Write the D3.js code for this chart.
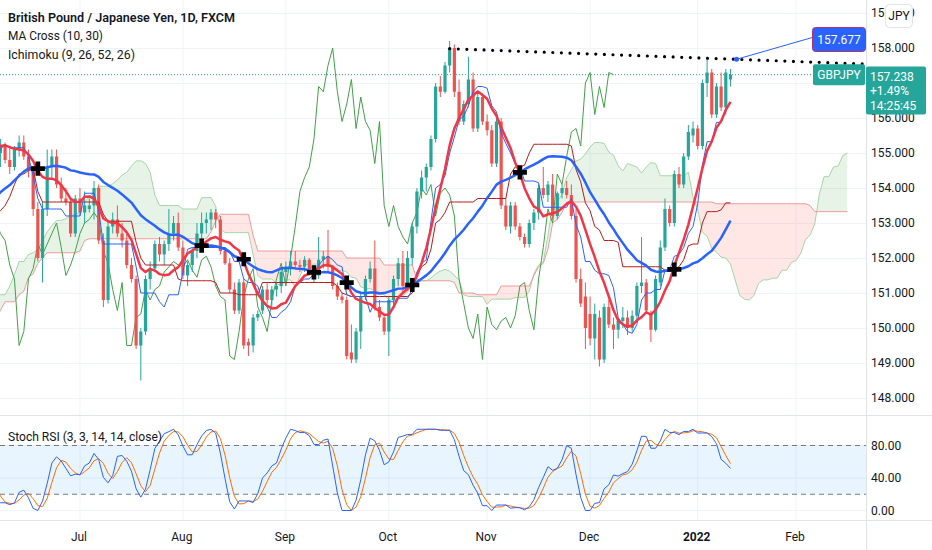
<!DOCTYPE html>
<html>
<head>
<meta charset="utf-8">
<script src="https://cdn.jsdelivr.net/npm/d3@7"></script>
<style>
  body { margin: 0; background: #fff; }
  text { font-family: Roboto, "Noto Sans", sans-serif; fill: #131722; }
</style>
</head>
<body>
<svg id="chart" width="932" height="550"></svg>
<script>
// ===== Data =====
// Daily GBPJPY bars [open, high, low, close]. The warm-up bars sit left of the
// visible window and only feed the indicators (MA 30, Ichimoku 52, Stoch RSI).
const firstDate = '2021-02-18';
const warmupBars = [
  [147.6,147.9,146.9,147.2],[147.2,148.0,147.1,147.8],[147.8,148.8,147.6,148.6],[148.6,149.0,148.1,148.4],
  [148.4,149.9,148.2,149.7],[149.7,150.1,148.9,149.1],[149.1,149.3,148.1,148.4],[148.4,149.5,148.3,149.3],
  [149.3,149.6,148.7,148.9],[148.9,150.0,148.8,149.8],[149.8,150.4,149.4,150.1],[150.1,150.8,149.9,150.4],
  [150.4,151.0,150.2,150.6],[150.6,151.0,150.3,150.7],[150.7,151.3,150.4,151.1],[151.1,151.9,150.9,151.7],
  [151.7,152.1,151.3,151.9],[151.9,152.0,151.2,151.5],[151.5,151.8,151.0,151.3],[151.3,152.0,150.9,151.8],
  [151.8,152.4,151.4,151.6],[151.6,151.7,150.6,150.9],[150.9,151.0,150.2,150.5],[150.5,150.7,149.4,149.6],
  [149.6,150.0,149.2,149.7],[149.7,150.6,149.5,150.5],[150.5,151.2,150.3,151.0],[151.0,151.4,150.7,151.2],
  [151.2,152.3,151.0,152.1],[152.1,152.5,151.8,152.2],[152.2,152.6,151.8,152.3],[152.3,152.6,152.0,152.4],
  [152.4,153.4,152.3,153.2],[153.2,153.4,152.0,152.2],[152.2,152.3,150.9,151.1],[151.1,151.3,150.1,150.4],
  [150.4,150.8,149.9,150.6],[150.6,150.9,150.0,150.2],[150.2,150.4,149.7,149.9],[149.9,151.0,149.8,150.8],
  [150.8,151.0,150.2,150.3],[150.3,150.6,149.9,150.2],[150.2,151.3,150.1,151.1],[151.1,151.7,150.5,150.7],
  [150.7,150.9,150.0,150.3],[150.3,150.6,149.4,149.6],[149.6,150.0,149.2,149.8],[149.8,150.5,149.6,150.3],
  [150.3,151.2,150.2,151.0],[151.0,151.7,150.8,151.5],[151.5,152.0,151.2,151.7],[151.7,151.8,150.9,151.1],
  [151.1,151.6,150.9,151.4],[151.4,151.6,150.8,151.2],[151.2,152.0,151.1,151.9],[151.9,152.6,151.6,152.4],
  [152.4,153.3,152.3,153.1],[153.1,153.8,152.9,153.6],[153.6,153.8,152.9,153.2],[153.2,154.2,153.1,154.0],
  [154.0,154.3,153.4,153.8],[153.8,154.5,153.7,154.4],[154.4,154.8,154.1,154.6],[154.6,155.1,154.3,154.9],
  [154.9,155.0,154.0,154.3],[154.3,154.7,153.9,154.5],[154.5,154.8,154.1,154.4],[154.4,154.6,153.9,154.2],
  [154.2,154.4,153.6,154.1],[154.1,154.8,153.9,154.6],[154.6,155.2,154.3,155.1],[155.1,155.8,154.9,155.6],
  [155.6,155.9,155.2,155.5],[155.5,155.9,154.9,155.2],[155.2,155.8,155.0,155.6],[155.6,155.9,155.1,155.3],
  [155.3,155.4,154.6,154.9],[154.9,155.2,154.6,155.0]
];
const priceBars = [
  [155.0,155.4,154.6,155.2],[155.2,155.3,154.7,154.8],[154.8,155.2,154.4,154.6],[154.6,155.2,154.5,155.1],
  [155.1,155.5,154.9,155.3],[155.3,155.5,154.8,154.9],[154.9,155.1,154.3,154.5],[154.5,154.6,153.2,153.4],
  [153.4,153.6,151.9,152.0],[152.0,153.6,151.3,153.4],[153.4,155.1,153.2,154.6],[154.6,155.1,154.3,154.9],
  [154.9,155.1,154.0,154.1],[154.1,154.3,153.6,153.7],[153.7,154.0,153.5,153.6],[153.6,153.7,152.6,152.7],
  [152.7,153.8,152.6,153.7],[153.7,154.0,153.2,153.3],[153.3,153.9,153.0,153.5],[153.4,153.7,153.3,153.5],
  [153.5,154.2,153.1,154.0],[154.0,154.1,152.4,152.5],[152.5,152.7,150.6,150.8],[150.8,153.1,150.7,152.9],
  [152.9,153.3,152.7,153.1],[153.1,153.5,152.6,152.7],[152.7,153.0,152.3,152.5],[152.5,152.7,151.7,151.8],
  [151.8,152.0,151.3,151.4],[151.4,151.5,149.4,149.5],[149.5,150.0,148.5,149.9],[149.9,151.5,149.8,151.4],
  [151.4,151.9,151.1,151.7],[151.7,152.5,151.6,152.4],[152.4,152.6,151.9,152.1],[152.1,152.5,151.8,152.4],
  [152.4,153.4,152.2,152.7],[152.7,153.2,152.5,153.0],[153.0,153.3,152.2,152.3],[152.3,152.5,151.4,151.5],
  [151.5,151.9,151.2,151.8],[151.8,152.3,151.6,152.2],[152.2,153.0,152.0,152.7],[152.7,153.3,152.4,153.0],
  [153.0,153.3,152.7,153.1],[153.1,153.4,152.8,153.3],[153.3,153.4,152.85,153.1],[153.1,153.2,152.1,152.2],
  [152.2,152.3,151.8,151.85],[151.85,152.0,151.0,151.1],[151.1,151.3,150.4,150.5],[150.5,151.4,150.4,151.3],
  [151.3,151.4,149.4,149.5],[149.6,149.7,149.2,149.5],[149.5,150.4,149.3,150.3],[150.3,150.5,150.2,150.4],
  [150.5,151.2,150.4,151.1],[151.1,151.3,150.7,150.8],[150.8,151.2,150.6,151.1],[151.1,151.3,150.9,151.2],
  [151.2,151.7,151.0,151.6],[151.6,151.9,151.3,151.75],[151.75,152.2,151.5,151.9],[151.9,152.2,151.7,151.8],
  [151.8,151.95,151.6,151.75],[151.75,152.05,151.6,151.95],[151.95,152.0,151.5,151.65],[151.65,151.8,151.3,151.45],
  [151.5,152.6,151.4,151.95],[151.95,152.2,151.7,152.05],[152.05,152.8,151.6,151.75],[151.75,151.8,151.1,151.2],
  [151.2,151.3,150.8,150.9],[150.9,151.0,150.7,150.8],[150.8,150.9,149.1,149.2],[149.3,150.1,149.0,149.1],
  [149.1,150.0,149.0,149.9],[149.9,151.0,149.4,150.9],[150.9,151.5,150.8,151.4],[151.4,151.9,151.3,151.7],
  [151.7,152.5,150.5,150.6],[150.6,150.8,150.2,150.3],[150.3,150.4,149.8,149.9],[149.9,150.9,149.2,150.8],
  [150.8,151.5,150.6,151.4],[151.4,152.0,151.2,151.85],[151.85,152.2,151.0,151.2],[151.2,152.2,151.1,152.0],
  [152.0,153.0,151.8,152.9],[152.9,154.0,152.7,153.9],[153.9,154.5,153.7,154.3],[154.3,154.7,153.9,154.6],
  [154.6,155.5,154.5,155.4],[155.4,157.0,155.3,156.9],[156.9,157.2,156.6,156.75],[156.75,157.6,156.7,157.5],
  [157.5,158.2,157.3,158.0],[158.0,158.1,156.6,156.75],[156.75,157.1,155.8,155.9],[155.9,156.5,155.8,156.4],
  [156.4,157.75,156.3,157.1],[157.1,157.3,155.6,155.7],[155.7,156.7,155.6,156.6],[156.6,156.7,155.8,155.9],
  [155.9,156.1,155.5,155.65],[155.65,155.8,154.6,154.7],[154.7,156.1,154.6,155.9],[155.9,156.0,153.4,153.5],
  [153.5,153.7,152.8,152.9],[152.9,153.6,152.7,153.5],[153.5,153.6,152.8,152.9],[152.9,153.0,152.5,152.6],
  [152.6,152.7,152.3,152.4],[152.4,153.1,152.3,153.0],[153.0,153.4,152.8,153.3],[153.3,154.1,153.1,154.0],
  [154.0,154.6,153.7,153.8],[153.8,154.2,153.6,154.1],[154.1,154.4,153.1,153.2],[153.2,153.9,153.1,153.85],
  [153.85,154.1,153.7,154.0],[154.0,154.2,153.7,153.8],[153.8,154.1,153.1,153.2],[153.2,153.4,151.3,151.4],
  [151.4,151.7,150.6,150.7],[150.9,151.3,149.4,150.0],[150.4,150.9,149.5,149.7],[149.7,150.7,149.1,150.4],
  [150.3,150.5,148.9,149.1],[149.1,150.7,149.0,150.6],[150.6,150.8,150.0,150.1],[150.1,150.3,149.4,149.95],
  [149.95,150.3,149.7,150.2],[150.2,150.6,150.0,150.3],[150.3,150.5,149.8,150.0],[150.0,150.5,149.9,150.35],
  [150.35,151.3,150.2,151.2],[151.2,152.6,151.0,151.3],[151.3,151.4,150.4,150.5],[150.4,150.5,149.6,149.95],
  [149.95,151.5,149.9,151.4],[151.3,152.5,151.2,152.3],[152.3,153.7,152.2,153.4],[153.4,153.5,152.9,153.0],
  [153.0,154.5,152.9,154.4],[154.4,154.6,154.0,154.1],[154.1,155.0,154.0,154.9],[154.9,155.8,154.8,155.6],
  [155.5,155.9,155.3,155.7],[155.7,155.8,155.1,155.2],[155.2,157.1,155.1,157.0],[157.0,157.75,156.6,157.3],
  [157.3,157.4,156.0,156.1],[156.1,157.0,156.0,156.9],[156.9,157.3,156.2,156.3],[156.3,157.4,156.1,157.3],
  [157.1,157.4,156.9,157.238]
];
const monthKeys   = ['2021-07', '2021-08', '2021-09', '2021-10', '2021-11', '2021-12', '2022-01', '2022-02'];
const monthLabels = ['Jul', 'Aug', 'Sep', 'Oct', 'Nov', 'Dec', '2022', 'Feb'];
const priceTicks  = [148, 149, 150, 151, 152, 153, 154, 155, 156, 157, 158, 159];
const stochTicks  = [0, 40, 80];
const stochBand   = [20, 80];
// drawn trend line: [visible bar number, price]
const trendLine   = [[96, 157.98], [185, 157.54]];
const alertPrice  = 157.677;
const lastInfo    = ['157.238', '+1.49%', '14:25:45'];
const symbolName  = 'GBPJPY';

// ===== Layout =====
const svg = d3.select('#chart');
const paneRight = 866;
const mainBottom = 415;
const stochBottom = 520;
const UP = '#26a69a', DOWN = '#ef5350';

const bars = warmupBars.concat(priceBars);
const offset = warmupBars.length;
const close = bars.map(b => b[3]);
const lastClose = close[close.length - 1];

// trading days (weekdays) starting from the first warm-up bar
const dates = [];
for (let t = new Date(firstDate + 'T00:00:00Z'); dates.length < bars.length + 40; t = new Date(t.getTime() + 864e5)) {
  const wd = t.getUTCDay();
  if (wd !== 0 && wd !== 6) dates.push(t.toISOString().slice(0, 10));
}

const x = d3.scaleLinear().domain([0, 185]).range([0.4, 0.4 + 185 * 4.68]);
const y = d3.scaleLinear().domain([148, 158]).range([398, 48]);
const ys = d3.scaleLinear().domain([0, 80]).range([510.5, 445.5]);

// ===== Indicators =====
function sma(src, n) {
  return src.map((_, i) => {
    if (i < n - 1) return null;
    const w = src.slice(i - n + 1, i + 1);
    return w.some(v => v == null) ? null : d3.mean(w);
  });
}
function donchian(n) {
  return bars.map((_, i) => {
    if (i < n - 1) return null;
    const w = bars.slice(i - n + 1, i + 1);
    return (d3.max(w, b => b[1]) + d3.min(w, b => b[2])) / 2;
  });
}
const ma10 = sma(close, 10), ma30 = sma(close, 30);
const tenkan = donchian(9), kijun = donchian(26), spanB = donchian(52);
const spanA = tenkan.map((t, i) => (t == null || kijun[i] == null) ? null : (t + kijun[i]) / 2);
const shift = 25;

// Stoch RSI (3, 3, 14, 14)
const rsi = [];
let avgU = 0, avgD = 0;
close.forEach((c, i) => {
  if (i === 0) { rsi.push(null); return; }
  const ch = c - close[i - 1];
  const u = Math.max(ch, 0), dn = Math.max(-ch, 0);
  if (i <= 14) {
    avgU += u / 14; avgD += dn / 14;
    rsi.push(i === 14 ? 100 - 100 / (1 + avgU / avgD) : null);
  } else {
    avgU = (avgU * 13 + u) / 14; avgD = (avgD * 13 + dn) / 14;
    rsi.push(avgD === 0 ? 100 : 100 - 100 / (1 + avgU / avgD));
  }
});
const stochRaw = rsi.map((r, i) => {
  if (i < 14) return null;
  const w = rsi.slice(i - 13, i + 1);
  if (w.some(v => v == null)) return null;
  const lo = d3.min(w), hi = d3.max(w);
  return hi === lo ? 0 : (r - lo) / (hi - lo) * 100;
});
const stochK = sma(stochRaw, 3);
const stochD = sma(stochK, 3);

// series in visible-bar coordinates
const series = (src, lag = 0) => src.map((v, i) => ({ v: i - offset + lag, val: v })).filter(p => p.val != null);

// ===== Background grid =====
const monthIdx = monthKeys.map(k => dates.findIndex(d => d.startsWith(k)) - offset);

const grid = svg.append('g');
grid.selectAll('line.vg').data(monthIdx).join('line')
  .attr('x1', d => x(d)).attr('x2', d => x(d))
  .attr('y1', 0).attr('y2', stochBottom)
  .style('stroke', '#f0f3fa');
grid.selectAll('line.hg').data(priceTicks).join('line')
  .attr('x1', 0).attr('x2', paneRight)
  .attr('y1', d => Math.round(y(d)) + 0.5).attr('y2', d => Math.round(y(d)) + 0.5)
  .style('stroke', '#f0f3fa');
grid.selectAll('line.sg').data(stochTicks).join('line')
  .attr('x1', 0).attr('x2', paneRight)
  .attr('y1', d => ys(d)).attr('y2', d => ys(d))
  .style('stroke', '#f0f3fa');

// ===== Main pane =====
const defs = svg.append('defs');
defs.append('clipPath').attr('id', 'mainClip')
  .append('rect').attr('x', 0).attr('y', 0).attr('width', paneRight).attr('height', mainBottom);
defs.append('clipPath').attr('id', 'stochClip')
  .append('rect').attr('x', 0).attr('y', mainBottom + 1).attr('width', paneRight).attr('height', stochBottom - mainBottom - 1);

const main = svg.append('g').attr('clip-path', 'url(#mainClip)');

// Ichimoku cloud (leading spans shifted forward)
const cloud = spanA.map((a, i) => ({ v: i - offset + shift, a, b: spanB[i] })).filter(p => p.a != null && p.b != null);
defs.append('clipPath').attr('id', 'aboveB').append('path')
  .attr('d', d3.area().x(p => x(p.v)).y0(0).y1(p => y(p.b))(cloud));
defs.append('clipPath').attr('id', 'belowB').append('path')
  .attr('d', d3.area().x(p => x(p.v)).y0(mainBottom).y1(p => y(p.b))(cloud));
const cloudArea = d3.area().x(p => x(p.v)).y0(p => y(p.b)).y1(p => y(p.a));
main.append('g').attr('clip-path', 'url(#aboveB)').append('path')
  .attr('d', cloudArea(cloud)).style('fill', 'rgba(67,160,71,0.13)');
main.append('g').attr('clip-path', 'url(#belowB)').append('path')
  .attr('d', cloudArea(cloud)).style('fill', 'rgba(244,67,54,0.13)');

const line = d3.line().x(p => x(p.v)).y(p => y(p.val));
function drawLine(g, pts, color, width) {
  g.append('path').attr('d', line(pts))
    .style('fill', 'none').style('stroke', color).style('stroke-width', width)
    .style('stroke-linejoin', 'round');
}
drawLine(main, series(spanA, shift), '#a5d6a7', 1);
drawLine(main, series(spanB, shift), '#ef9a9a', 1);
drawLine(main, series(close, -shift), '#43a047', 1);

// last price line
const lastY = y(lastClose);
main.append('line')
  .attr('x1', 0).attr('x2', 813).attr('y1', lastY).attr('y2', lastY)
  .style('stroke', UP).style('stroke-width', 1).style('stroke-dasharray', '1 2');

// candles
const candleG = main.append('g');
const cw = 3.2;
priceBars.forEach((b, v) => {
  const [o, h, l, c] = b;
  const col = c >= o ? UP : DOWN;
  const cx = x(v);
  candleG.append('line')
    .attr('x1', cx).attr('x2', cx).attr('y1', y(h)).attr('y2', y(l))
    .style('stroke', col).style('stroke-width', 1);
  const top = y(Math.max(o, c)), bot = y(Math.min(o, c));
  candleG.append('rect')
    .attr('x', cx - cw / 2).attr('y', top)
    .attr('width', cw).attr('height', Math.max(bot - top, 1))
    .style('fill', col);
});

drawLine(main, series(kijun), '#b71c1c', 1);
drawLine(main, series(tenkan), '#2962ff', 1);
drawLine(main, series(ma30), '#2962ff', 2.5);
drawLine(main, series(ma10), '#f23645', 2.5);

// MA cross markers
const crosses = [];
for (let v = 1; v < priceBars.length; v++) {
  const i = v + offset;
  const prev = ma10[i - 1] - ma30[i - 1], cur = ma10[i] - ma30[i];
  if (prev * cur < 0) crosses.push({ v, val: ma30[i] });
}
main.selectAll('path.cross').data(crosses).join('path')
  .attr('d', d3.symbol(d3.symbolCross, 110))
  .attr('transform', p => `translate(${x(p.v)},${y(p.val)})`)
  .style('fill', '#000');

// trend line + alert callout
const trendPts = trendLine.map(([v, p]) => ({ v, val: p }));
main.append('path').attr('d', line(trendPts))
  .style('stroke', '#000').style('stroke-width', 3.2)
  .style('stroke-dasharray', '0 8.6').style('stroke-linecap', 'round').style('fill', 'none');

const slope = (trendLine[1][1] - trendLine[0][1]) / (trendLine[1][0] - trendLine[0][0]);
const alertBar = trendLine[0][0] + (alertPrice - trendLine[0][1]) / slope;
const ax = x(alertBar), ay = y(alertPrice);
svg.append('line').attr('x1', ax).attr('y1', ay).attr('x2', 813).attr('y2', ay - 22)
  .style('stroke', '#2962ff').style('stroke-width', 1);
svg.append('circle').attr('cx', ax).attr('cy', ay).attr('r', 2.5).style('fill', '#2962ff');
svg.append('rect').attr('x', 812.5).attr('y', 27.5).attr('width', 53).attr('height', 24).attr('rx', 3)
  .style('fill', '#2962ff').style('stroke', '#b0336c').style('stroke-width', 1);
svg.append('text').attr('x', 839).attr('y', 39.5).attr('dy', '0.35em').attr('text-anchor', 'middle')
  .style('fill', '#fff').style('font-size', '12px').text(alertPrice.toFixed(3));

// symbol label on the last-price line
svg.append('rect').attr('x', 813).attr('y', lastY - 10.5).attr('width', 52).attr('height', 21).attr('rx', 2)
  .style('fill', UP);
svg.append('text').attr('x', 839).attr('y', lastY + 0.5).attr('dy', '0.35em').attr('text-anchor', 'middle')
  .style('fill', '#fff').style('font-size', '12px').text(symbolName);

// ===== Stoch RSI pane =====
const stoch = svg.append('g').attr('clip-path', 'url(#stochClip)');
stoch.append('rect')
  .attr('x', 0).attr('width', paneRight)
  .attr('y', ys(stochBand[1])).attr('height', ys(stochBand[0]) - ys(stochBand[1]))
  .style('fill', 'rgba(33,150,243,0.1)');
stoch.selectAll('line.band').data(stochBand).join('line')
  .attr('x1', 0).attr('x2', paneRight).attr('y1', d => ys(d)).attr('y2', d => ys(d))
  .style('stroke', '#787b86').style('stroke-width', 1).style('stroke-dasharray', '5 4');
const sLine = d3.line().x(p => x(p.v)).y(p => ys(p.val));
[[stochD, '#ff6d00'], [stochK, '#2962ff']].forEach(([src, col]) => {
  stoch.append('path').attr('d', sLine(series(src)))
    .style('fill', 'none').style('stroke', col).style('stroke-width', 1);
});

// ===== Frames =====
svg.append('line').attr('x1', 0).attr('x2', 932).attr('y1', mainBottom + 0.5).attr('y2', mainBottom + 0.5)
  .style('stroke', '#e0e3eb');
svg.append('line').attr('x1', 0).attr('x2', 932).attr('y1', stochBottom + 0.5).attr('y2', stochBottom + 0.5)
  .style('stroke', '#e0e3eb');
svg.append('line').attr('x1', paneRight + 0.5).attr('x2', paneRight + 0.5).attr('y1', 0).attr('y2', 550)
  .style('stroke', '#e0e3eb');

// ===== Axes =====
// the price tick hidden under the last-price box is not drawn (as on the platform)
const boxTop = 66.5, boxBottom = 114.5;
const shownTicks = priceTicks.filter(d => y(d) < boxTop - 4 || y(d) > boxBottom - 2);
svg.selectAll('text.pt').data(shownTicks).join('text')
  .attr('x', 871).attr('y', d => y(d)).attr('dy', '0.35em')
  .style('font-size', '12px').text(d => d.toFixed(3));
svg.selectAll('text.st').data(stochTicks).join('text')
  .attr('x', 871).attr('y', d => ys(d)).attr('dy', '0.35em')
  .style('font-size', '12px').text(d => d.toFixed(2));
svg.selectAll('text.mt').data(monthLabels).join('text')
  .attr('x', (d, k) => x(monthIdx[k]) - 1).attr('y', 537).attr('dy', '0.35em')
  .attr('text-anchor', 'middle').style('font-size', '12px')
  .style('font-weight', d => /^\d+$/.test(d) ? 700 : 400).text(d => d);

// currency box
svg.append('rect').attr('x', 885.5).attr('y', 4.5).attr('width', 27).attr('height', 23).attr('rx', 4)
  .style('fill', '#fff').style('stroke', '#e0e3eb');
svg.append('text').attr('x', 899).attr('y', 16).attr('dy', '0.35em').attr('text-anchor', 'middle')
  .style('font-size', '12px').text('JPY');

// last price box
svg.append('rect').attr('x', 866).attr('y', boxTop).attr('width', 60).attr('height', boxBottom - boxTop).attr('rx', 2)
  .style('fill', UP);
svg.selectAll('text.li').data(lastInfo).join('text')
  .attr('x', 870).attr('y', (d, k) => 76.5 + k * 14.5).attr('dy', '0.35em')
  .style('fill', '#fff').style('font-size', '12px').text(d => d);

// ===== Legends =====
const legends = [
  ['British Pound / Japanese Yen, 1D, FXCM', 17, 13, 600, 227],
  ['MA Cross (10, 30)', 36, 12.5, 400, 95],
  ['Ichimoku (9, 26, 52, 26)', 55, 12.5, 400, 127],
  ['Stoch RSI (3, 3, 14, 14, close)', 437, 12.5, 400, 154]
];
legends.forEach(([t, ty, fs, fw, len]) => {
  svg.append('text').attr('x', 8).attr('y', ty).attr('dy', '0.35em')
    .attr('textLength', len).attr('lengthAdjust', 'spacingAndGlyphs')
    .style('font-size', fs + 'px').style('font-weight', fw).text(t);
});
</script>
</body>
</html>
